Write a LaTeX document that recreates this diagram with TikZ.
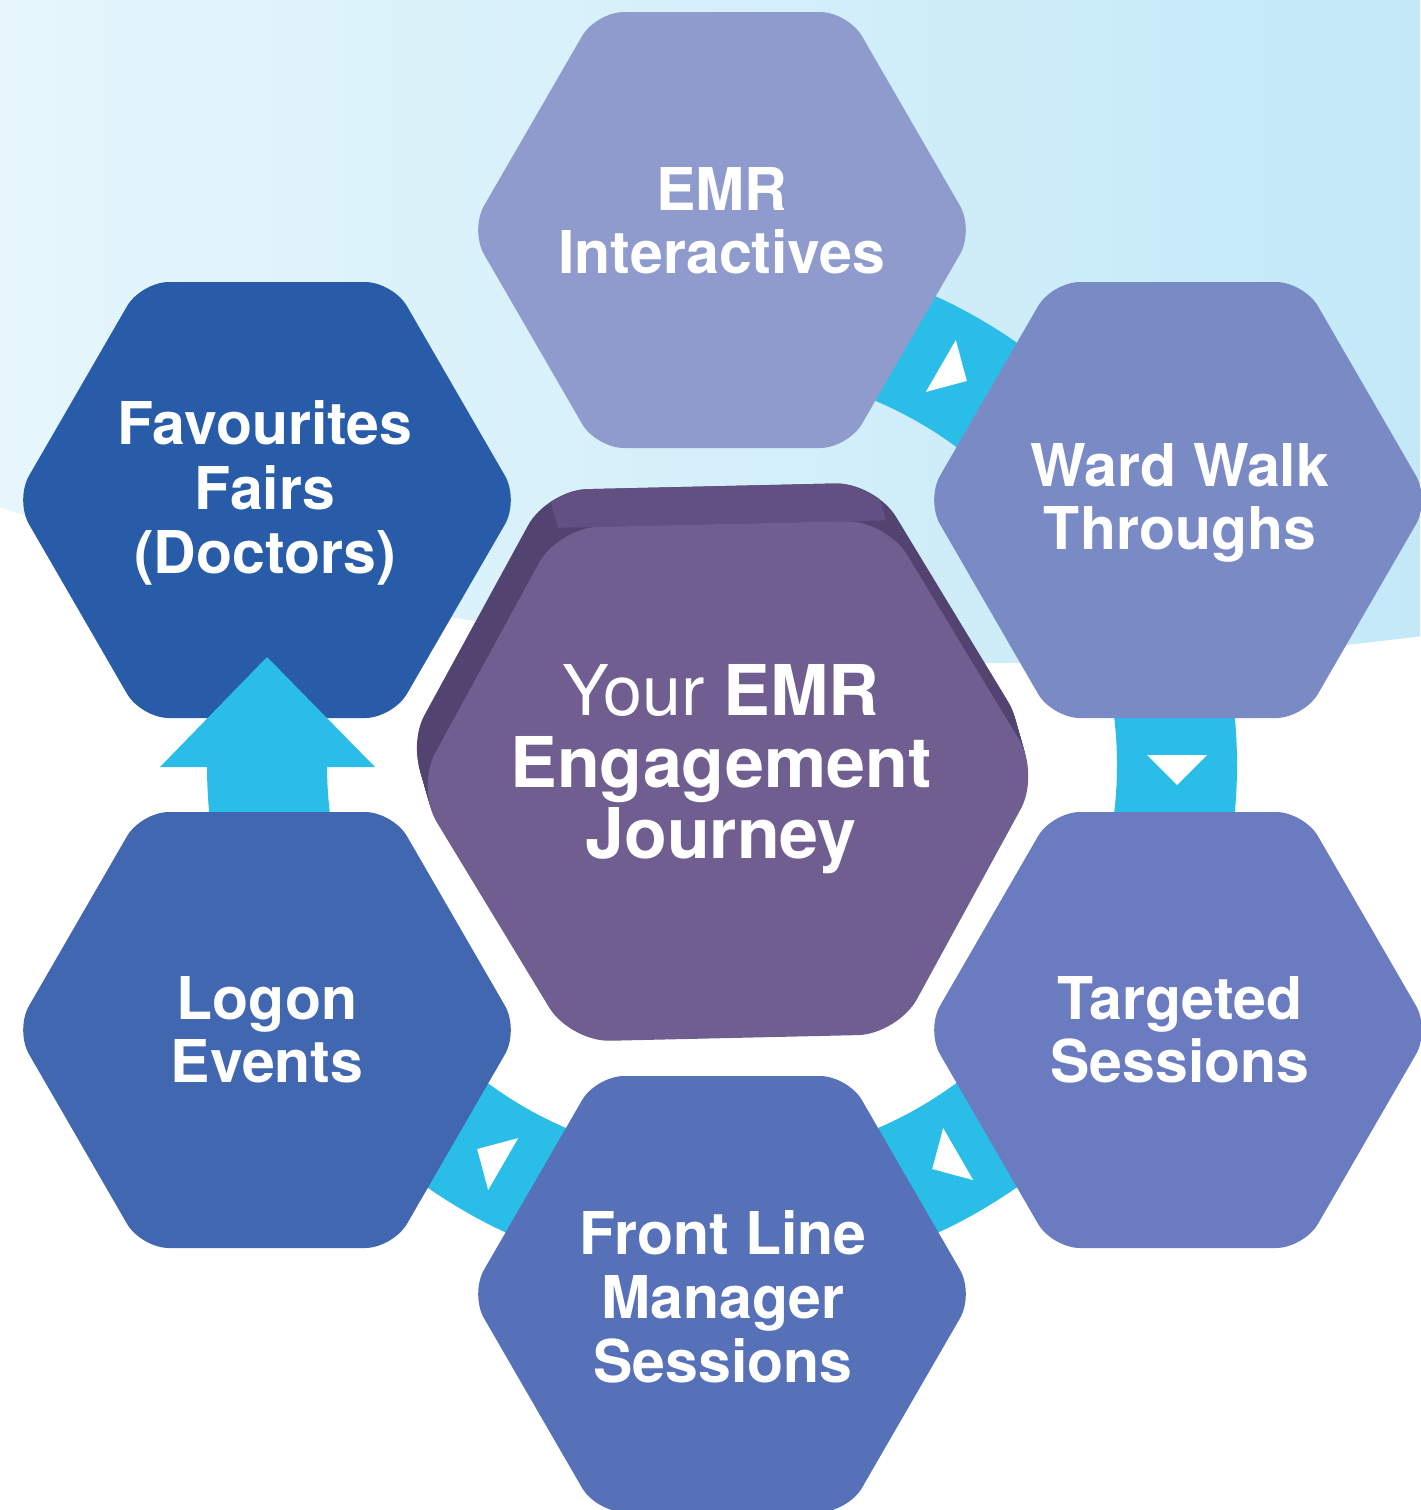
\documentclass[tikz,border=0pt]{standalone}
\usepackage{fontspec}
\setmainfont{TeX Gyre Heros}
\usetikzlibrary{calc}
\definecolor{ringcyan}{HTML}{29BDE8}
\definecolor{bgleft}{HTML}{E6F6FC}
\definecolor{bgright}{HTML}{C3E9F8}
\definecolor{cEMR}{HTML}{8E9BCC}
\definecolor{cWW}{HTML}{7A8AC4}
\definecolor{cTS}{HTML}{6A7CBF}
\definecolor{cFL}{HTML}{5671B8}
\definecolor{cLE}{HTML}{4267B1}
\definecolor{cFF}{HTML}{285CA9}
\definecolor{cmidfront}{HTML}{705E91}
\definecolor{cmidtop}{HTML}{625082}
\definecolor{cmidside}{HTML}{524370}
\tikzset{
  hexlbl/.style={text=white, font=\bfseries\fontsize{29.5pt}{31.5pt}\selectfont, anchor=base, inner sep=0pt},
  midlbl/.style={text=white, font=\fontsize{35pt}{36pt}\selectfont, anchor=base, inner sep=0pt},
  flowring/.style={draw=ringcyan, line width=60pt},
  flowtip/.style={fill=white},
}
\newcommand{\hexfill}[2]{%
  \fill[#1, rounded corners=14pt, shift={(#2)}] (0,-218) -- (126,-218) -- (252,0) -- (126,218) -- (-126,218) -- (-252,0) -- (-126,-218) -- cycle;}
\newcommand{\midhexpath}{(0,-257) -- (164,-257) -- (312,0) -- (164,257) -- (-164,257) -- (-312,0) -- (-164,-257) -- cycle}
\newcommand{\flowtri}[1]{%
  \fill[flowtip] ($(ctr)+(#1:455)+({#1+90}:20)$) -- ($(ctr)+(#1:455)+({#1+90}:-10)+(#1:30)$) -- ($(ctr)+(#1:455)+({#1+90}:-10)+(#1:-30)$) -- cycle;}
\begin{document}
\begin{tikzpicture}[x=0.5pt,y=-0.5pt]
\useasboundingbox (0,0) rectangle (1420,1510);
\fill[white] (0,0) rectangle (1420,1510);
\begin{scope}
  \clip (1000,-2607) circle[radius=3270];
  \shade[left color=bgleft, right color=bgright] (0,0) rectangle (1420,720);
\end{scope}
% centres
\coordinate (ctr) at (722,765);
\coordinate (hEMR) at (722,230);
\coordinate (hWW) at (1178,500);
\coordinate (hTS) at (1178,1030);
\coordinate (hFL) at (722,1294);
\coordinate (hLE) at (267,1030);
\coordinate (hFF) at (267,500);
\coordinate (cmid) at (728,781);
% flow ring
\coordinate (ringstart) at ($(ctr)+(-90:455)$);
\coordinate (ringend) at ($(ctr)+(180:455)$);
\draw[flowring] (ringstart) arc[start angle=-90, end angle=180, radius=455];
\flowtri{-60}
\flowtri{0}
\flowtri{60}
\flowtri{120}
% outer hexagons
\hexfill{cEMR}{hEMR}
\hexfill{cWW}{hWW}
\hexfill{cTS}{hTS}
\hexfill{cFL}{hFL}
\hexfill{cLE}{hLE}
\hexfill{cFF}{hFF}
% arrow head into Favourites Fairs
\coordinate (tipL) at (160,767);
\coordinate (tipR) at (375,767);
\coordinate (tipA) at (267,657);
\fill[ringcyan] (tipL) -- (tipA) -- (tipR) -- cycle;
% centre hexagon (extruded)
\begin{scope}[shift={(cmid)}, rotate=1.3]
  \foreach \t in {1,0.95,...,0.05}
    \fill[cmidside, rounded corners=20pt, shift={({-10*\t},{-38*\t})}] \midhexpath;
  \begin{scope}
    \clip[rounded corners=20pt, shift={(-10,-38)}] \midhexpath;
    \fill[cmidtop] (-174,-295) -- (154,-295) -- (164,-257) -- (-164,-257) -- cycle;
  \end{scope}
  \fill[cmidfront, rounded corners=20pt] \midhexpath;
\end{scope}
% labels
\node[hexlbl] (emrA) at (722,210) {EMR};
\node[hexlbl] (emrB) at (722,273) {Interactives};
\node[hexlbl] (wwA) at (1180,486) {Ward Walk};
\node[hexlbl] (wwB) at (1180,549) {Throughs};
\node[hexlbl] (ffA) at (265,444) {Favourites};
\node[hexlbl] (ffB) at (265,509) {Fairs};
\node[hexlbl] (ffC) at (265,573) {(Doctors)};
\node[hexlbl] (leA) at (267,1019) {Logon};
\node[hexlbl] (leB) at (267,1082) {Events};
\node[hexlbl] (tsA) at (1180,1019) {Targeted};
\node[hexlbl] (tsB) at (1180,1082) {Sessions};
\node[hexlbl] (flA) at (723,1254) {Front Line};
\node[hexlbl] (flB) at (723,1318) {Manager};
\node[hexlbl] (flC) at (723,1382) {Sessions};
\node[midlbl] (midA) at (721,715) {Your \textbf{EMR}};
\node[midlbl] (midB) at (721,787) {\textbf{Engagement}};
\node[midlbl] (midC) at (721,858) {\textbf{Journey}};
\end{tikzpicture}
\end{document}
